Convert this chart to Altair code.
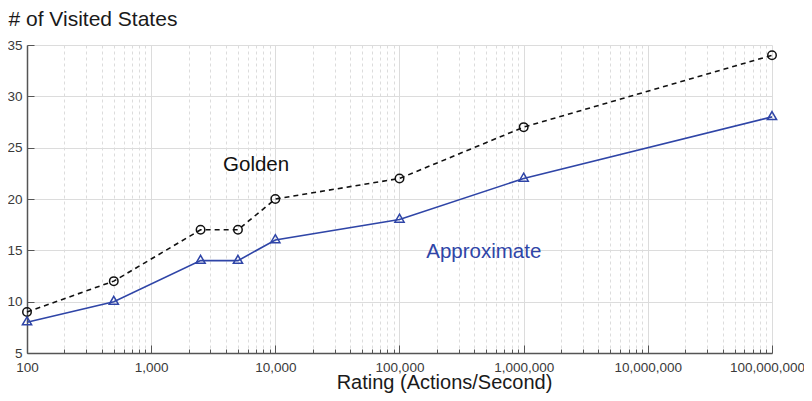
import altair as alt
import pandas as pd

# ---- data ----
rates = [100, 500, 2500, 5000, 10000, 100000, 1000000, 100000000]
golden = [9, 12, 17, 17, 20, 22, 27, 34]
approximate = [8, 10, 14, 14, 16, 18, 22, 28]

x_major = [100, 1000, 10000, 100000, 1000000, 10000000, 100000000]
x_minor = [m * d for d in x_major[:-1] for m in range(2, 10)]
y_ticks = [5, 10, 15, 20, 25, 30, 35]

label_names = ["Golden", "Approximate"]
label_x = [7000, 477000]
label_y = [22.75, 14.3]

BLACK = "#111111"
BLUE = "#2F45A7"
FONT = "Liberation Sans"
TRIANGLE = "M0,-1.155L1,0.577L-1,0.577Z"

df = pd.DataFrame({
    "rate": rates * 2,
    "states": golden + approximate,
    "series": ["Golden"] * len(rates) + ["Approximate"] * len(rates),
})
labels_df = pd.DataFrame({"name": label_names, "rate": label_x, "states": label_y})

is_dec = "indexof([" + ",".join(str(v) for v in x_major) + "], datum.value) >= 0"
is_last = f"datum.value == {x_major[-1]}"

x_axis = alt.Axis(
    values=sorted(x_major + x_minor),
    labelExpr=f"{is_dec} ? format(datum.value, ',') : ''",
    labelFont=FONT, labelFontSize=13.5, labelColor="#3a3a3a",
    labelPadding=15, labelOverlap=False, labelFlush=False, labelBound=False,
    labelOffset={"condition": {"test": is_last, "value": -5}, "value": 0},
    grid=True, gridColor="#dcdcdc", gridWidth=1,
    gridDash={"condition": {"test": is_dec, "value": []}, "value": [3, 3]},
    tickSize={"condition": {"test": is_dec, "value": -8}, "value": -4},
    tickColor="#555555", tickWidth=1,
    domainColor="#555555", domainWidth=1.5,
    title="Rating (Actions/Second)", titleFont=FONT, titleFontSize=20,
    titleFontWeight="normal", titleColor="#1a1a1a",
    titleX=417, titleY=35, titleAlign="center", titleBaseline="alphabetic",
)

y_axis = alt.Axis(
    values=y_ticks,
    labelFont=FONT, labelFontSize=13.5, labelColor="#3a3a3a",
    labelPadding=12, labelFlush=False,
    grid=True, gridColor="#dcdcdc", gridWidth=1,
    tickSize={"expr": "-7"}, tickColor="#555555", tickWidth=1,
    domainColor="#555555", domainWidth=1.5,
    title="# of Visited States", titleFont=FONT, titleFontSize=21,
    titleFontWeight="normal", titleColor="#1a1a1a",
    titleAngle=0, titleX=-19, titleY=-20, titleAlign="left",
    titleBaseline="alphabetic",
)

X = alt.X("rate:Q", scale=alt.Scale(type="log", domain=[100, 100000000]), axis=x_axis)
Y = alt.Y("states:Q", scale=alt.Scale(domain=[5, 35]), axis=y_axis)

base = alt.Chart(df).encode(x=X, y=Y)

g = base.transform_filter("datum.series == 'Golden'")
a = base.transform_filter("datum.series == 'Approximate'")

g_line = g.mark_line(color=BLACK, strokeWidth=1.6, strokeDash=[5, 4])
a_line = a.mark_line(color=BLUE, strokeWidth=1.6)
g_pts = g.mark_point(shape="circle", size=72, filled=False,
                     color=BLACK, strokeWidth=1.5, opacity=1)
a_pts = a.mark_point(shape=TRIANGLE, size=85, filled=False,
                     color=BLUE, strokeWidth=1.5, opacity=1)

texts = alt.Chart(labels_df).mark_text(
    align="center", baseline="alphabetic", font=FONT, fontSize=20.5
).encode(
    x=X, y=Y, text="name:N",
    color=alt.Color("name:N", scale=alt.Scale(domain=label_names, range=[BLACK, BLUE]), legend=None),
)

chart = alt.layer(g_line, a_line, g_pts, a_pts, texts).properties(
    width=745, height=308,
    autosize=alt.AutoSizeParams(type="none"),
    padding={"left": 19, "top": 37, "right": 32, "bottom": 40},
    background="white",
).configure_view(stroke=None)

chart.save("out.html", embed_options={"renderer": "svg", "actions": False})
